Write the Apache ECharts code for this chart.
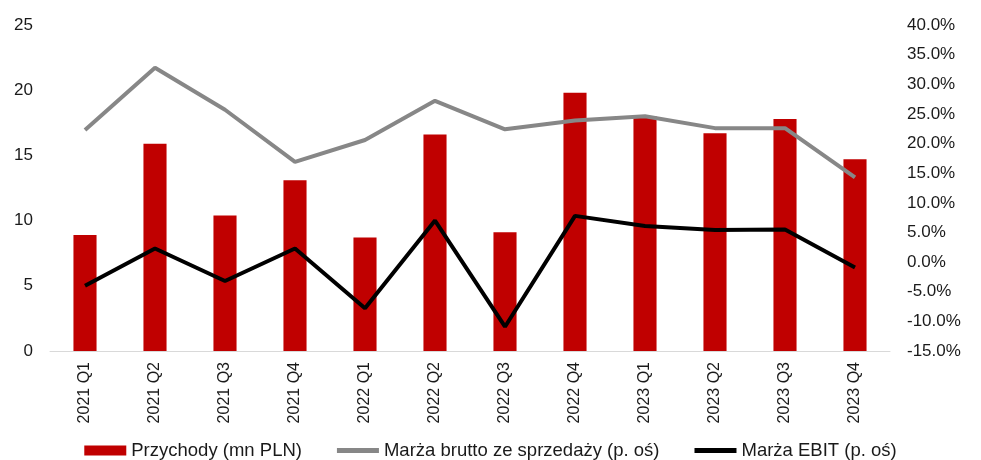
<!DOCTYPE html>
<html>
<head>
<meta charset="utf-8">
<script src="https://cdn.jsdelivr.net/npm/echarts@6/dist/echarts.min.js"></script>
<style>
  html, body { margin: 0; padding: 0; background: #fff; }
  #chart { width: 981px; height: 460px; }
</style>
</head>
<body>
<div id="chart"></div>
<script>
var quarters = ['2021 Q1', '2021 Q2', '2021 Q3', '2021 Q4', '2022 Q1', '2022 Q2', '2022 Q3', '2022 Q4', '2023 Q1', '2023 Q2', '2023 Q3', '2023 Q4'];
// przychody, mn PLN
var revenue = [8.9, 15.9, 10.4, 13.1, 8.7, 16.6, 9.1, 19.8, 18.0, 16.7, 17.8, 14.7];
// marze w %
var grossMargin = [22.3, 32.8, 25.7, 16.9, 20.6, 27.2, 22.4, 23.9, 24.6, 22.6, 22.6, 14.3];
var ebitMargin = [-4.0, 2.3, -3.2, 2.3, -7.8, 7.0, -10.9, 7.8, 6.1, 5.4, 5.5, -0.9];

var font = '"Liberation Sans", Arial, sans-serif';
var lineIcon = 'path://M0,0 H42 V5 H0 Z';
var myChart = echarts.init(document.getElementById('chart'));
var option = {
    animation: false,
    textStyle: { fontFamily: font },
    grid: { left: 50, right: 91, top: 25, bottom: 109, containLabel: false },
    legend: {
        top: 441,
        left: 'center',
        padding: 0,
        itemGap: 35,
        itemWidth: 42,
        itemHeight: 10,
        textStyle: { fontSize: 18.5, color: '#1a1a1a', fontFamily: font },
        data: [
            { name: 'Przychody (mn PLN)', icon: 'rect' },
            { name: 'Marża brutto ze sprzedaży (p. oś)', icon: lineIcon },
            { name: 'Marża EBIT (p. oś)', icon: lineIcon }
        ]
    },
    xAxis: {
        type: 'category',
        data: quarters,
        axisLine: { lineStyle: { color: '#d9d9d9', width: 1 } },
        axisTick: { show: false },
        axisLabel: { rotate: 90, fontSize: 16, color: '#1a1a1a', margin: 11, interval: 0 }
    },
    yAxis: [
        {
            type: 'value', min: 0, max: 25, interval: 5,
            splitLine: { show: false },
            axisLine: { show: false },
            axisLabel: { fontSize: 17, color: '#1a1a1a', margin: 17 }
        },
        {
            type: 'value', min: -15, max: 40, interval: 5,
            splitLine: { show: false },
            axisLine: { show: false },
            axisLabel: {
                fontSize: 17, color: '#1a1a1a', margin: 17,
                formatter: function (v) { return v.toFixed(1) + '%'; }
            }
        }
    ],
    series: [
        {
            name: 'Przychody (mn PLN)',
            type: 'bar',
            data: revenue,
            barWidth: '33%',
            itemStyle: { color: '#c00000' }
        },
        {
            name: 'Marża brutto ze sprzedaży (p. oś)',
            type: 'line',
            yAxisIndex: 1,
            data: grossMargin,
            symbol: 'none',
            lineStyle: { color: '#878787', width: 4 },
            itemStyle: { color: '#878787' }
        },
        {
            name: 'Marża EBIT (p. oś)',
            type: 'line',
            yAxisIndex: 1,
            data: ebitMargin,
            symbol: 'none',
            lineStyle: { color: '#000000', width: 4 },
            itemStyle: { color: '#000000' }
        }
    ]
};
myChart.setOption(option);
</script>
</body>
</html>
